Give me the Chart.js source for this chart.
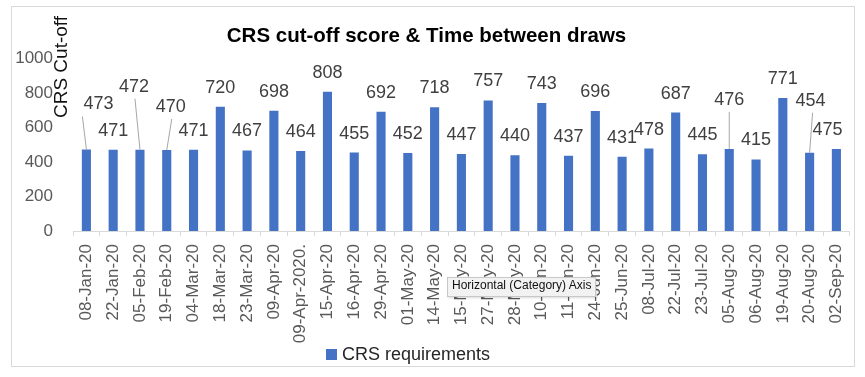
<!DOCTYPE html>
<html>
<head>
<meta charset="utf-8">
<script src="https://cdn.jsdelivr.net/npm/chart.js@4.4.1/dist/chart.umd.min.js"></script>
<style>
  html, body { margin: 0; padding: 0; background: #fff; }
  #wrap { position: relative; width: 865px; height: 377px; }
  #crsChart { display: block; }
  .axisTip {
    position: absolute;
    left: 447px;
    top: 277px;
    height: 18px;
    line-height: 18px;
    padding: 0 4px;
    font: 12px "Liberation Sans", Arial, sans-serif;
    color: #111;
    background: #f2f2f2;
    border: 1px solid #c8c8c8;
    box-shadow: 1px 1px 2px rgba(0,0,0,0.15);
    white-space: nowrap;
  }
</style>
</head>
<body>
<div id="wrap">
  <canvas id="crsChart" width="865" height="377"></canvas>
  <div class="axisTip">Horizontal (Category) Axis</div>
</div>
<script>
const drawDates = [
  "08-Jan-20", "22-Jan-20", "05-Feb-20", "19-Feb-20", "04-Mar-20", "18-Mar-20",
  "23-Mar-20", "09-Apr-20", "09-Apr-2020.", "15-Apr-20", "16-Apr-20", "29-Apr-20",
  "01-May-20", "14-May-20", "15-May-20", "27-May-20", "28-May-20", "10-Jun-20",
  "11-Jun-20", "24-Jun-20", "25-Jun-20", "08-Jul-20", "22-Jul-20", "23-Jul-20",
  "05-Aug-20", "06-Aug-20", "19-Aug-20", "20-Aug-20", "02-Sep-20",
];
const cutoffScores = [
  473, 471, 472, 470, 471, 720, 467, 698, 464, 808, 455, 692, 452, 718, 447,
  757, 440, 743, 437, 696, 431, 478, 687, 445, 476, 415, 771, 454, 475,
];
const yTicks = [0, 200, 400, 600, 800, 1000];
const seriesName = "CRS requirements";
const chartTitle = "CRS cut-off score & Time between draws";
const yAxisTitle = "CRS Cut-off";

const FONT = "'Liberation Sans', Arial, sans-serif";
const BAR_BLUE = "#4472C4";
Chart.defaults.font.family = FONT;

// labels that Excel moved off their default spot (lx = where the leader line ends)
const labelNudge = {
  0: { dx: 12, dy: -26, leader: true, lx: -4 },
  2: { dx: -6, dy: -44, leader: true, lx: -5 },
  3: { dx: 4, dy: -24, leader: true, lx: 5 },
  24: { dx: 0, dy: -30, leader: true, lx: 0 },
  27: { dx: 1, dy: -33, leader: true, lx: 3 },
  28: { dx: -9, dy: 0 },
};

const barLabels = {
  id: "barLabels",
  afterDatasetsDraw(chart) {
    const { ctx } = chart;
    const meta = chart.getDatasetMeta(0);
    ctx.save();
    ctx.font = `18px ${FONT}`;
    ctx.textAlign = "center";
    ctx.textBaseline = "middle";
    meta.data.forEach((bar, i) => {
      const n = labelNudge[i] || { dx: 0, dy: 0 };
      const x = bar.x + n.dx;
      const y = bar.y - 19 + n.dy;
      if (n.leader) {
        ctx.strokeStyle = "#a6a6a6";
        ctx.lineWidth = 1;
        ctx.beginPath();
        ctx.moveTo(bar.x, bar.y);
        ctx.lineTo(bar.x + n.lx, y + 12);
        ctx.stroke();
      }
      ctx.fillStyle = "#404040";
      ctx.fillText(String(cutoffScores[i]), x, y);
    });
    ctx.restore();
  },
};

const frameAndExtras = {
  id: "frameAndExtras",
  beforeDraw(chart) {
    const { ctx } = chart;
    ctx.save();
    ctx.fillStyle = "#fff";
    ctx.fillRect(0, 0, chart.width, chart.height);
    ctx.strokeStyle = "#d9d9d9";
    ctx.lineWidth = 1;
    ctx.strokeRect(11.5, 6.5, 843, 360);
    ctx.restore();
  },
  afterDraw(chart) {
    const { ctx } = chart;
    ctx.save();
    // rotated value axis title, Excel put it near the top
    ctx.translate(62, 67);
    ctx.rotate(-Math.PI / 2);
    ctx.font = `19px ${FONT}`;
    ctx.fillStyle = "#111";
    ctx.textAlign = "center";
    ctx.textBaseline = "middle";
    ctx.fillText(yAxisTitle, 0, 0);
    ctx.restore();

    ctx.save();
    ctx.fillStyle = BAR_BLUE;
    ctx.fillRect(326, 349, 11, 11);
    ctx.font = `18px ${FONT}`;
    ctx.fillStyle = "#262626";
    ctx.textAlign = "left";
    ctx.textBaseline = "middle";
    ctx.fillText(seriesName, 342, 355);
    ctx.restore();
  },
};

new Chart(document.getElementById("crsChart"), {
  type: "bar",
  data: {
    labels: drawDates,
    datasets: [
      {
        label: seriesName,
        data: cutoffScores,
        backgroundColor: BAR_BLUE,
        barPercentage: 0.34,
        categoryPercentage: 1.0,
      },
    ],
  },
  options: {
    responsive: false,
    animation: false,
    layout: { padding: { left: 0, right: 12, top: 0, bottom: 0 } },
    plugins: {
      legend: { display: false },
      tooltip: { enabled: false },
      title: {
        display: true,
        text: chartTitle,
        color: "#000",
        font: { size: 20.5, weight: "bold" },
        padding: { top: 24, bottom: 10 },
      },
    },
    scales: {
      x: {
        grid: {
          display: true,
          offset: true,
          drawOnChartArea: false,
          drawTicks: true,
          tickLength: 5,
          color: "#d9d9d9",
        },
        border: { display: true, color: "#d9d9d9" },
        ticks: {
          autoSkip: false,
          maxRotation: 90,
          minRotation: 90,
          padding: 8,
          color: "#595959",
          font: { size: 17 },
        },
        afterFit(scale) {
          scale.height = 146;
        },
      },
      y: {
        min: 0,
        max: 1000,
        grid: { display: false, drawTicks: false },
        border: { display: false },
        ticks: {
          padding: 20,
          color: "#595959",
          font: { size: 17 },
          callback: (v) => String(v),
        },
        afterBuildTicks(scale) {
          scale.ticks = yTicks.map((v) => ({ value: v }));
        },
        afterFit(scale) {
          scale.width = 73;
        },
      },
    },
  },
  plugins: [frameAndExtras, barLabels],
});
</script>
</body>
</html>
